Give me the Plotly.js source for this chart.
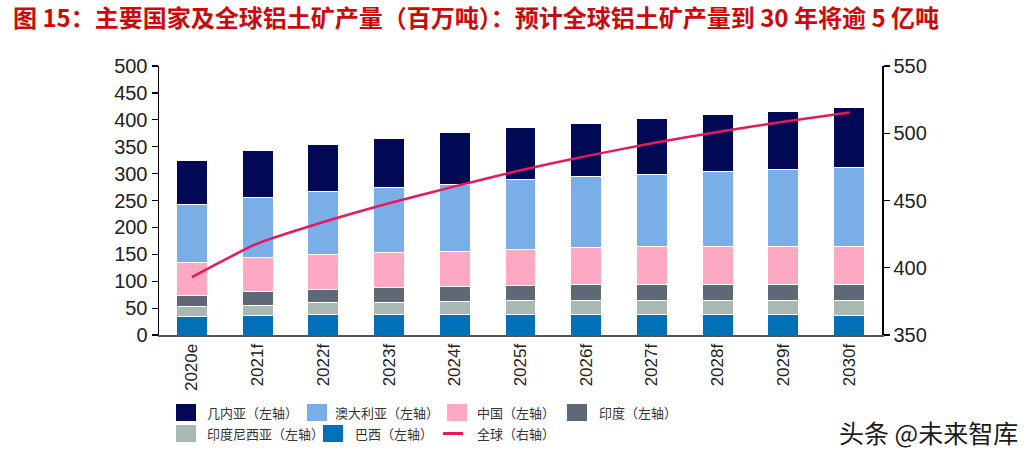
<!DOCTYPE html>
<html>
<head>
<meta charset="utf-8">
<script src="https://cdn.plot.ly/plotly-3.0.1.min.js"></script>
<style>
html,body{margin:0;padding:0;background:#fff;}
#chart{width:1033px;height:459px;}
</style>
</head>
<body>
<div id="chart"></div>
<script>
// ---- data ----
const years = ['2020e','2021f','2022f','2023f','2024f','2025f','2026f','2027f','2028f','2029f','2030f'];
const brazil    = [34, 36.5, 39, 39, 39, 39, 39, 39, 39, 39, 36];
const indonesia = [19, 18.5, 20.5, 21.5, 23, 24.5, 26, 26, 26, 26, 29];
const india     = [20, 25, 25.5, 27.5, 28.5, 28, 28, 28, 28, 28, 28];
const china     = [62.5, 63.5, 65.5, 65.5, 65.5, 67, 70, 72, 72, 72, 72];
const australia = [108, 112.5, 116, 121, 124, 130, 132, 134, 138, 143, 147];
const guinea    = [80, 87, 88.5, 91, 96, 98, 99, 103, 107, 107, 111];
const world     = [393, 418, 434, 448, 460.5, 472.5, 483, 492.5, 501, 508.5, 515.5];
const leftTicks  = [0, 50, 100, 150, 200, 250, 300, 350, 400, 450, 500];
const rightTicks = [350, 400, 450, 500, 550];

const names = {
  guinea: '几内亚（左轴）', australia: '澳大利亚（左轴）', china: '中国（左轴）',
  india: '印度（左轴）', indonesia: '印度尼西亚（左轴）', brazil: '巴西（左轴）', world: '全球（右轴）'
};
const colors = {
  guinea: '#020a55', australia: '#7aaee7', china: '#fea9c3', india: '#5e6975',
  indonesia: '#a9b8b2', brazil: '#0071b9', world: '#e6195f'
};

// ---- plot geometry (pixels) ----
const W = 1033, H = 459;
const L = 159, R = 882, T = 66, B = 335;
const px2x = p => (p - L) / (R - L);
const py2y = p => (B - p) / (B - T);

const barSeries = [
  ['brazil', brazil], ['indonesia', indonesia], ['india', india],
  ['china', china], ['australia', australia], ['guinea', guinea]
];
const traces = barSeries.map(([k, v]) => ({
  type: 'bar', x: years, y: v, name: names[k],
  marker: {color: colors[k], line: {color: '#ffffff', width: 1}},
  hoverinfo: 'x+y+name'
}));
traces.push({
  type: 'scatter', mode: 'lines', x: years, y: world, name: names.world, yaxis: 'y2',
  line: {color: colors.world, width: 2.5, shape: 'spline', smoothing: 0.6}
});

// ---- custom legend ----
const legendItems = [
  {k: 'guinea',    sx: 176, tx: 205, row: 0},
  {k: 'australia', sx: 307, tx: 333, row: 0},
  {k: 'china',     sx: 447, tx: 475, row: 0},
  {k: 'india',     sx: 567, tx: 597, row: 0},
  {k: 'indonesia', sx: 176, tx: 205, row: 1},
  {k: 'brazil',    sx: 323, tx: 353, row: 1},
  {k: 'world',     sx: 443, tx: 475, row: 1, line: true}
];
const rowY = [412.5, 433.5];
const shapes = [];
const annotations = [];
legendItems.forEach(it => {
  const cy = rowY[it.row];
  if (it.line) {
    shapes.push({type: 'line', xref: 'paper', yref: 'paper',
      x0: px2x(it.sx), x1: px2x(it.sx + 20), y0: py2y(cy), y1: py2y(cy),
      line: {color: colors[it.k], width: 3}});
  } else {
    shapes.push({type: 'rect', xref: 'paper', yref: 'paper',
      x0: px2x(it.sx), x1: px2x(it.sx + 20), y0: py2y(cy - 8.5), y1: py2y(cy + 8.5),
      fillcolor: colors[it.k], line: {width: 0}});
  }
  annotations.push({xref: 'paper', yref: 'paper', x: px2x(it.tx), y: py2y(cy),
    xanchor: 'left', yanchor: 'middle', showarrow: false, text: names[it.k],
    font: {family: 'Noto Sans CJK SC', size: 13, color: '#333333'}});
});
// watermark
annotations.push({xref: 'paper', yref: 'paper', x: px2x(1020), y: py2y(432),
  xanchor: 'right', yanchor: 'middle', showarrow: false, text: '头条 @未来智库',
  font: {family: 'Noto Sans CJK SC', size: 25, color: '#1a1a1a'}});

const tickFont = {family: 'Liberation Sans, Arial, sans-serif', size: 20, color: '#222222'};
const layout = {
  width: W, height: H, autosize: false,
  margin: {l: L, r: W - R, t: T, b: H - B, pad: 0},
  paper_bgcolor: '#ffffff', plot_bgcolor: '#ffffff',
  showlegend: false,
  barmode: 'stack', bargap: 0.53,
  title: {
    text: '<b>图 15：主要国家及全球铝土矿产量（百万吨）：预计全球铝土矿产量到 30 年将逾 5 亿吨</b>',
    x: 13 / W, xanchor: 'left', xref: 'container', yref: 'container',
    y: 1 - 19 / H, yanchor: 'middle',
    font: {family: 'Noto Sans CJK SC', size: 24, color: '#cc0a0a'}
  },
  xaxis: {
    type: 'category', range: [-0.5, 10.5], showline: true, linecolor: '#555555', linewidth: 2,
    ticks: '', tickangle: -90, showgrid: false, zeroline: false,
    tickfont: {family: 'Liberation Sans, Arial, sans-serif', size: 17, color: '#222222'}
  },
  yaxis: {
    range: [0, 500], tickvals: leftTicks, showline: true, linecolor: '#000000', linewidth: 1.5,
    ticks: 'outside', ticklen: 6, tickcolor: '#000000', tickwidth: 1.2,
    showgrid: false, zeroline: false, tickfont: tickFont
  },
  yaxis2: {
    range: [350, 550], tickvals: rightTicks, overlaying: 'y', side: 'right',
    showline: true, linecolor: '#000000', linewidth: 1.5,
    ticks: 'outside', ticklen: 6, tickcolor: '#000000', tickwidth: 1.2,
    showgrid: false, zeroline: false, tickfont: tickFont
  },
  shapes: shapes,
  annotations: annotations
};
Plotly.newPlot('chart', traces, layout, {staticPlot: true, displayModeBar: false});
</script>
</body>
</html>
